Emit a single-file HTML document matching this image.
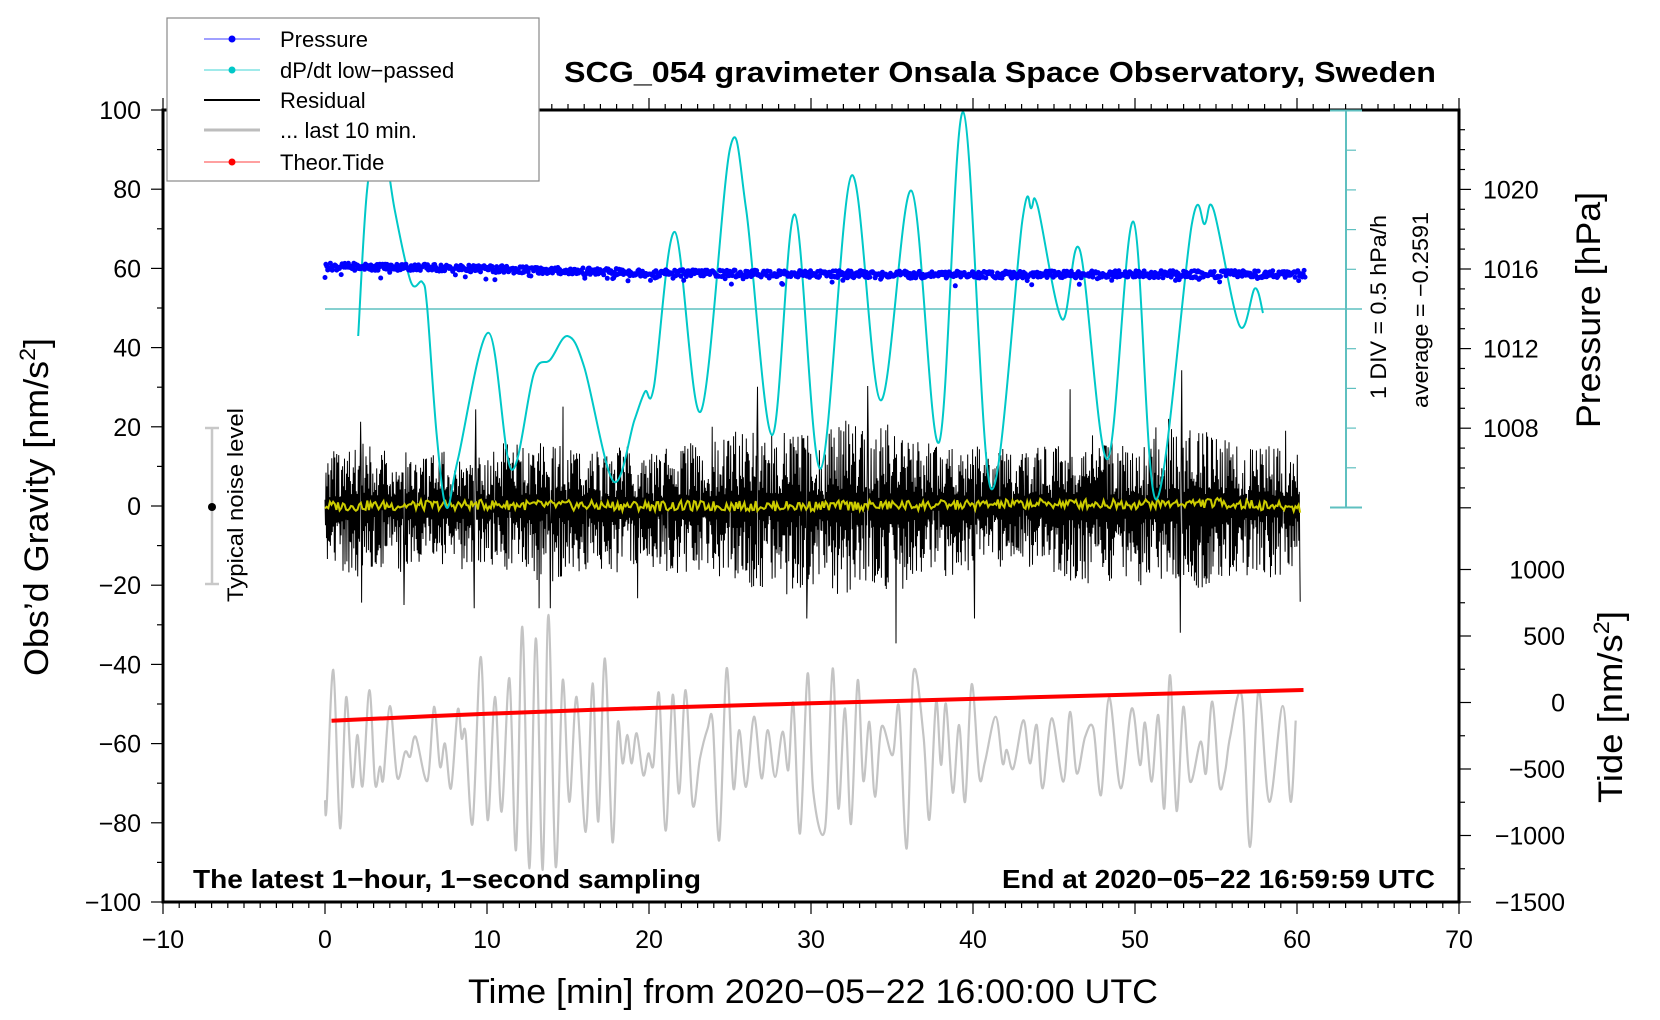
<!DOCTYPE html>
<html><head><meta charset="utf-8"><style>
html,body{margin:0;padding:0;background:#fff;}
svg{display:block;font-family:"Liberation Sans",sans-serif;}
</style></head><body>
<svg id="chart" width="1660" height="1020" viewBox="0 0 1660 1020" xmlns="http://www.w3.org/2000/svg">
<rect x="0" y="0" width="1660" height="1020" fill="#fff"/>
<g id="series"></g>
<g id="axes"></g>
<text x="1000" y="82" text-anchor="middle" font-weight="bold" font-size="29" textLength="872" lengthAdjust="spacingAndGlyphs">SCG_054 gravimeter Onsala Space Observatory, Sweden</text>
<text transform="translate(48,507) rotate(-90)" text-anchor="middle" font-size="34" textLength="338" lengthAdjust="spacingAndGlyphs">Obs’d Gravity [nm/s<tspan font-size="22" dy="-13">2</tspan><tspan dy="13">]</tspan></text>
<text x="813" y="1003" text-anchor="middle" font-size="34" textLength="690" lengthAdjust="spacingAndGlyphs">Time [min] from 2020−05−22 16:00:00 UTC</text>
<text transform="translate(1600,310) rotate(-90)" text-anchor="middle" font-size="34" textLength="236" lengthAdjust="spacingAndGlyphs">Pressure [hPa]</text>
<text transform="translate(1622,707) rotate(-90)" text-anchor="middle" font-size="34" textLength="192" lengthAdjust="spacingAndGlyphs">Tide [nm/s<tspan font-size="22" dy="-13">2</tspan><tspan dy="13">]</tspan></text>
<text transform="translate(1386,307) rotate(-90)" text-anchor="middle" font-size="22" textLength="184" lengthAdjust="spacingAndGlyphs">1 DIV = 0.5 hPa/h</text>
<text transform="translate(1428,310) rotate(-90)" text-anchor="middle" font-size="22" textLength="196" lengthAdjust="spacingAndGlyphs">average = −0.2591</text>
<text x="193" y="888" font-weight="bold" font-size="26" textLength="508" lengthAdjust="spacingAndGlyphs">The latest 1−hour, 1−second sampling</text>
<text x="1435" y="888" text-anchor="end" font-weight="bold" font-size="26" textLength="433" lengthAdjust="spacingAndGlyphs">End at 2020−05−22 16:59:59 UTC</text>
<g>
<line x1="212" y1="428" x2="212" y2="584" stroke="#c8c8c8" stroke-width="2.5"/>
<line x1="205" y1="428" x2="219" y2="428" stroke="#c8c8c8" stroke-width="2.5"/>
<line x1="205" y1="584" x2="219" y2="584" stroke="#c8c8c8" stroke-width="2.5"/>
<circle cx="212" cy="507" r="4" fill="#000"/>
<text transform="translate(243,505) rotate(-90)" text-anchor="middle" font-size="22" textLength="194" lengthAdjust="spacingAndGlyphs">Typical noise level</text>
</g>
<g>
<rect x="167" y="18" width="372" height="163" fill="#fff" stroke="#888" stroke-width="1.2"/>
<g><line x1="204" y1="39" x2="260" y2="39" stroke="#0000ff" stroke-width="0.8"/><circle cx="232" cy="39" r="3.5" fill="#0000ff"/><text x="280" y="47" font-size="22">Pressure</text></g>
<g><line x1="204" y1="70" x2="260" y2="70" stroke="#00c8c8" stroke-width="0.8"/><circle cx="232" cy="70" r="3.5" fill="#00c8c8"/><text x="280" y="78" font-size="22">dP/dt low−passed</text></g>
<g><line x1="204" y1="100" x2="260" y2="100" stroke="#000" stroke-width="2"/><text x="280" y="108" font-size="22">Residual</text></g>
<g><line x1="204" y1="130" x2="260" y2="130" stroke="#bdbdbd" stroke-width="3"/><text x="280" y="138" font-size="22">... last 10 min.</text></g>
<g><line x1="204" y1="162" x2="260" y2="162" stroke="#ff0000" stroke-width="0.8"/><circle cx="232" cy="162" r="3.5" fill="#ff0000"/><text x="280" y="170" font-size="22">Theor.Tide</text></g>
</g>
</svg>
<script>
// ---- data ----
const dpT = [2.05,2.6,3.4,4.3,5.3,6.0,6.3,6.9,7.5,8.2,10.1,11.5,12.9,13.9,14.97,16.0,17.8,19.1,19.75,20.3,21.6,23.2,25.0,26.0,27.6,29.0,30.6,32.5,34.3,36.2,37.9,39.4,41.1,43.05,43.6,44.0,45.5,46.6,48.3,49.9,51.3,53.5,54.3,54.85,56.45,57.4,57.9];
const dpV = [-0.34,1.5,2.3,1.25,0.34,0.34,0.03,-1.6,-2.5,-1.9,-0.30,-2.02,-0.81,-0.64,-0.34,-0.73,-2.17,-1.4,-1.04,-0.98,0.97,-1.29,2.02,1.25,-1.59,1.19,-2.01,1.68,-1.15,1.49,-1.68,2.48,-2.26,1.12,1.27,1.29,-0.13,0.74,-1.89,1.10,-2.4,1.06,1.07,1.25,-0.21,0.26,-0.05];
const presT = [0,5,10,15,20,25,30,35,40,45,50,55,60.5];
const presV = [1016.12,1016.1,1016.0,1015.9,1015.8,1015.78,1015.75,1015.72,1015.72,1015.72,1015.74,1015.74,1015.75];
const tideT = [0.4,10,20,30,40,50,60.4];
const tideV = [-137,-85,-41,-6,27,60,94];
const grayT = [0,0.1,0.51,0.93,1.3,1.69,2.0,2.32,2.74,3.09,3.39,3.6,4.01,4.46,4.94,5.25,5.6,6.32,6.73,7.1,7.41,7.78,8.19,8.44,8.68,9.11,9.61,10.04,10.49,10.9,11.38,11.79,12.18,12.61,13.02,13.44,13.79,14.24,14.67,15.08,15.53,16.09,16.52,16.87,17.28,17.74,18.07,18.37,18.66,18.93,19.24,19.65,19.96,20.27,20.62,21.03,21.46,21.85,22.26,22.7,23.15,23.62,23.93,24.34,24.79,25.21,25.57,25.99,26.48,26.95,27.33,27.78,28.25,28.6,28.91,29.32,29.79,30.14,30.87,31.34,31.69,32.1,32.47,32.88,33.23,33.6,33.95,34.36,35.04,35.43,35.91,36.32,36.94,37.31,37.72,38.03,38.33,38.75,39.14,39.51,39.92,40.39,40.74,41.4,41.83,42.08,42.49,43.11,43.52,43.93,44.3,44.86,45.58,45.99,46.4,46.92,47.43,47.9,48.4,49.12,49.8,50.31,50.62,51.03,51.44,51.81,52.16,52.57,52.98,53.4,54.05,54.38,54.77,55.21,55.56,55.87,56.59,57.1,57.62,58.29,59.12,59.61,59.92];
const grayG = [-74.3,-76.0,-41.4,-81.4,-48.3,-70.9,-57.8,-70.7,-46.5,-70.1,-65.8,-69.0,-50.5,-68.6,-62.1,-63.3,-58.3,-69.4,-50.7,-65.8,-60.0,-71.3,-51.5,-58.7,-57.4,-80.2,-38.1,-79.3,-48.2,-77.2,-43.5,-86.9,-30.5,-91.5,-33.4,-91.9,-27.5,-91.1,-44.0,-74.7,-48.2,-82.3,-44.8,-79.7,-38.5,-84.8,-54.9,-65.0,-57.8,-65.0,-57.4,-68.0,-62.5,-65.4,-47.3,-82.0,-47.7,-72.6,-46.5,-75.5,-63.7,-56.2,-54.5,-84.4,-41.0,-71.3,-56.6,-70.9,-53.2,-68.8,-56.6,-68.4,-57.0,-66.7,-49.8,-82.7,-42.3,-72.2,-81.4,-41.0,-76.4,-51.1,-80.3,-44.0,-69.4,-54.5,-73.4,-55.7,-62.9,-50.7,-86.5,-42.1,-57.8,-79.2,-49.4,-65.4,-49.9,-72.4,-55.3,-74.7,-45.0,-68.4,-64.6,-53.2,-65.0,-61.6,-66.3,-54.1,-65.0,-55.3,-71.3,-53.6,-69.6,-52.0,-67.5,-58.3,-56.2,-73.0,-48.3,-71.3,-51.1,-65.4,-54.7,-69.6,-52.8,-76.4,-42.7,-77.0,-50.7,-69.6,-59.5,-67.5,-49.4,-70.6,-67.1,-58.3,-48.0,-86.1,-46.7,-74.7,-50.5,-74.7,-54.2];
const resMax = [14,15,16,14,15,13,13,14,14,13,14,16,15,17,16,15,14,14,15,13,14,15,16,16,17,19,20,19,21,20,18,21,22,20,21,19,18,17,16,15,15,15,14,14,15,16,17,18,17,16,18,20,22,21,19,17,16,15,16,14,14];
const resMin = [16,17,18,16,17,15,15,16,16,15,16,18,17,19,19,17,16,16,17,15,16,17,18,18,19,21,22,21,23,22,20,23,24,22,23,21,20,19,18,17,17,17,16,16,17,18,19,20,19,18,20,22,24,23,21,19,18,17,18,16,16];
const spikeT = [2.2,2.25,4.87,9.2,9.3,13.2,13.9,14.7,19.3,23.9,26.7,29.75,33.5,35.25,40.1,46.0,52.8,52.9,59.3,60.2];
const spikeG = [21.3,-24.4,-25,-25.8,24.4,-25.8,-25.8,25.1,-23.3,20,30.1,-28.4,30.3,-34.7,-28.4,29.5,-32,34.3,19,-24.2];
const yelT = [0,10,20,30,40,45,50,55,60.5];
const yelV = [0,0.3,0,0,0.3,0.6,0.5,0.8,-0.5];
const xTicks = [-10,0,10,20,30,40,50,60,70];
const gTicks = [-100,-80,-60,-40,-20,0,20,40,60,80,100];
const pTicks = [1008,1012,1016,1020];
const tTicks = [-1500,-1000,-500,0,500,1000];

// ---- scales ----
const X = t => 325 + 16.2 * t;
const G = g => 506 - 3.96 * g;
const P = p => 269 - 19.9 * (p - 1016);
const D = v => 309 - 79.4 * v;
const TD = v => 702.5 - 0.133 * v;
const NS = 'http://www.w3.org/2000/svg';
const series = document.getElementById('series');
const axes = document.getElementById('axes');
function mk(tag, attrs, parent) {
  const e = document.createElementNS(NS, tag);
  for (const k in attrs) e.setAttribute(k, attrs[k]);
  parent.appendChild(e);
  return e;
}
function interp(ts, vs, t) {
  if (t <= ts[0]) return vs[0];
  for (let i = 1; i < ts.length; i++) if (t <= ts[i]) { const f = (t - ts[i-1]) / (ts[i] - ts[i-1]); return vs[i-1] + f * (vs[i] - vs[i-1]); }
  return vs[vs.length - 1];
}
function smoothPath(pts) {
  let d = 'M' + pts[0][0].toFixed(1) + ',' + pts[0][1].toFixed(1);
  for (let i = 0; i < pts.length - 1; i++) {
    const p0 = pts[Math.max(0, i-1)], p1 = pts[i], p2 = pts[i+1], p3 = pts[Math.min(pts.length-1, i+2)];
    const c1x = p1[0] + (p2[0]-p0[0])/6, c1y = p1[1] + (p2[1]-p0[1])/6;
    const c2x = p2[0] - (p3[0]-p1[0])/6, c2y = p2[1] - (p3[1]-p1[1])/6;
    d += 'C' + c1x.toFixed(1)+','+c1y.toFixed(1)+' '+c2x.toFixed(1)+','+c2y.toFixed(1)+' '+p2[0].toFixed(1)+','+p2[1].toFixed(1);
  }
  return d;
}
// deterministic texture sequence (visual jitter only)
function tex(i, a) { const v = Math.sin(i * 12.9898 + a * 78.233) * 43758.5453; return v - Math.floor(v); }

// gray last-10-min trace
const grayPath = mk('path', {d: smoothPath(grayT.map((t,i)=>[X(t), G(grayG[i])])), fill:'none', stroke:'#c4c4c4', 'stroke-width':2.2}, series);



// residual
let rd = '';
const N = 2000;
for (let i = 0; i <= N; i++) {
  const t = i * 60.2 / N;
  const mi = Math.min(60, Math.floor(t));
  const u = tex(i, 1), w = tex(i, 2);
  const s = (i % 2 === 0) ? 1 : -1;
  const mag = 0.15 + 0.85 * Math.pow(u, 1.1);
  let g = s > 0 ? mag * resMax[mi] : -mag * resMin[mi];
  if (w < 0.1) g *= 0.4;
  for (let k = 0; k < spikeT.length; k++) if (Math.abs(spikeT[k] - t) < 60.2 / N / 2) g = spikeG[k];
  rd += (i ? 'L' : 'M') + X(t).toFixed(1) + ',' + G(g).toFixed(1);
}
const resPath = mk('path', {d: rd, fill:'none', stroke:'#000', 'stroke-width':1}, series);



// yellow smoothed residual
let yd = '';
for (let i = 0; i <= 600; i++) {
  const t = i * 60.2 / 600;
  const g = interp(yelT, yelV, t) + 2.6 * (tex(i, 3) - 0.5);
  yd += (i ? 'L' : 'M') + X(t).toFixed(1) + ',' + G(g).toFixed(1);
}
const yelPath = mk('path', {d: yd, fill:'none', stroke:'#cccc00', 'stroke-width':2}, series);



// tide
const tidePath = mk('path', {d: smoothPath(tideT.map((t,i)=>[X(t), TD(tideV[i])])), fill:'none', stroke:'#ff0000', 'stroke-width':4}, series);



// dp/dt zero line & curve
const zl = mk('line', {x1:X(0), y1:D(0), x2:1362, y2:D(0), stroke:'#5fc0c0', 'stroke-width':1.5}, series);


const dpPath = mk('path', {d: smoothPath(dpT.map((t,i)=>[X(t), D(dpV[i])])), fill:'none', stroke:'#00c8c8', 'stroke-width':2}, series);



// pressure dots
const pg = mk('g', {fill:'#0000ff'}, series);


for (let i = 0; i <= 1090; i++) {
  const t = i * 3.33 / 60;
  let p = interp(presT, presV, t) + 0.36 * (tex(i, 4) - 0.5);
  const o = tex(i, 5);
  if (o < 0.06) p -= 0.1 + 0.35 * tex(i, 6);
  mk('circle', {cx: X(t).toFixed(1), cy: P(p).toFixed(1), r: 2.5}, pg);
}

// ---- axes ----
function line(x1,y1,x2,y2,w,c){ return mk('line',{x1,y1,x2,y2,stroke:c||'#000','stroke-width':w}, axes); }
const L = 163, R = 1459, TOP = 110, BOT = 902;
line(L, TOP, R, TOP, 3); line(L, BOT, R, BOT, 3); line(L, TOP-1.5, L, BOT+1.5, 3); line(R, TOP-1.5, R, BOT+1.5, 3);
for (let t = -10; t <= 70; t++) {
  const major = t % 10 === 0;
  line(X(t), BOT, X(t), BOT + (major ? 12 : 6), 1.2);
  line(X(t), TOP, X(t), TOP - (major ? 12 : 6), 1.2);
}
xTicks.forEach(t => {
  const e = mk('text', {x: X(t), y: 948, 'text-anchor':'middle', 'font-size':25}, axes);
  e.textContent = (t < 0 ? '−' : '') + Math.abs(t);
  
  
});
for (let g = -100; g <= 100; g += 10) line(L, G(g), L - (g % 20 === 0 ? 12 : 6), G(g), 1.2);
gTicks.forEach(g => {
  const e = mk('text', {x: 141, y: G(g) + 9, 'text-anchor':'end', 'font-size':25}, axes);
  e.textContent = (g < 0 ? '−' : '') + Math.abs(g);
  
  
});
for (let p = 1004; p <= 1023; p++) line(R, P(p), R + (p % 4 === 0 ? 12 : 6), P(p), 1.2);
pTicks.forEach(p => {
  const e = mk('text', {x: 1483, y: P(p) + 9, 'font-size':25}, axes);
  e.textContent = p;
  
  
});
for (let v = -1500; v <= 1000; v += 250) line(R, TD(v), R + (v % 500 === 0 ? 12 : 6), TD(v), 1.2);
tTicks.forEach(v => {
  const e = mk('text', {x: 1565, y: TD(v) + 9, 'text-anchor':'end', 'font-size':25}, axes);
  e.textContent = (v < 0 ? '−' : '') + Math.abs(v);
  
  
});
// dp/dt DIV scale
const sc = '#5fc0c0';
line(1346, D(2.5), 1346, D(-2.5), 2, sc);
line(1330, D(2.5), 1362, D(2.5), 2, sc);
line(1330, D(-2.5), 1362, D(-2.5), 2, sc);
for (let k = -4; k <= 4; k++) if (k !== 0) line(1346, D(k * 0.5), 1356, D(k * 0.5), 1.2, sc);
</script>
</body></html>
